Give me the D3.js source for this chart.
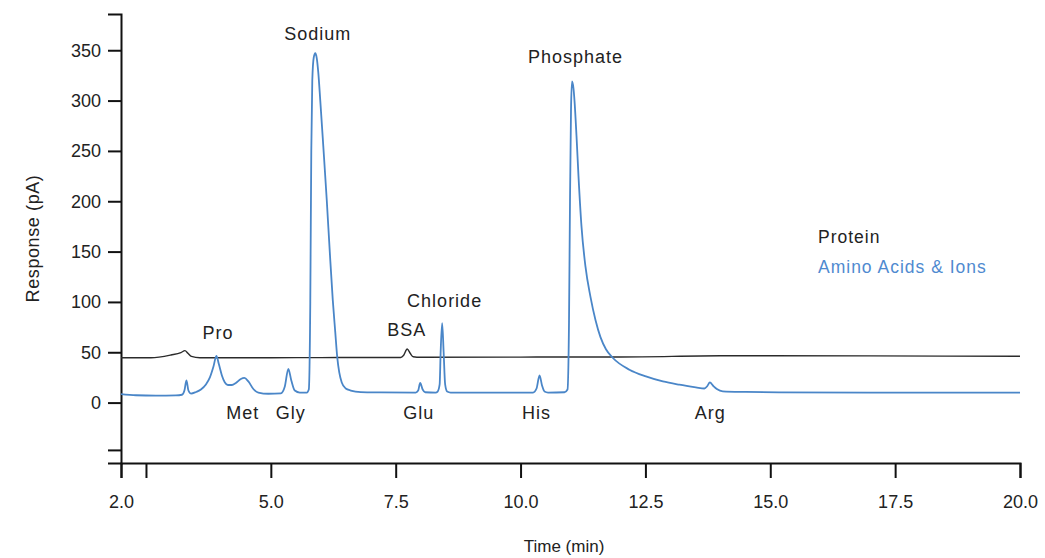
<!DOCTYPE html>
<html>
<head>
<meta charset="utf-8">
<script src="https://cdn.jsdelivr.net/npm/d3@7"></script>
<style>
  html, body { margin: 0; padding: 0; background: #fff; }
  svg { display: block; }
  text { font-family: "Liberation Sans", Arial, Helvetica, sans-serif; }
</style>
</head>
<body>
<svg id="chart" width="1045" height="558"></svg>
<script>
// ---- data ----
const aminoTime = [2.00, 2.30, 2.70, 3.10, 3.22, 3.27, 3.31, 3.35, 3.40, 3.50, 3.60, 3.70, 3.78, 3.85, 3.91, 3.96, 4.02, 4.08, 4.14, 4.22, 4.30, 4.40, 4.47, 4.55, 4.65, 4.75, 4.95, 5.20, 5.28, 5.35, 5.41, 5.48, 5.58, 5.72, 5.76, 5.79, 5.81, 5.83, 5.86, 5.89, 5.92, 5.95, 5.99, 6.05, 6.12, 6.18, 6.24, 6.29, 6.33, 6.37, 6.42, 6.50, 6.60, 6.80, 7.20, 7.90, 7.95, 7.99, 8.04, 8.09, 8.30, 8.34, 8.38, 8.40, 8.43, 8.46, 8.49, 8.53, 8.60, 10.25, 10.32, 10.38, 10.43, 10.48, 10.55, 10.88, 10.94, 10.97, 10.99, 11.01, 11.03, 11.06, 11.08, 11.12, 11.16, 11.22, 11.30, 11.40, 11.50, 11.60, 11.71, 11.85, 12.18, 12.51, 12.85, 13.18, 13.51, 13.68, 13.74, 13.79, 13.86, 13.93, 14.05, 14.51, 15.18, 17.00, 20.00];
const aminoResp = [8.5, 7.3, 7.0, 7.2, 7.8, 12, 22, 12, 9, 10.5, 13, 18, 25, 35.5, 46.5, 38, 27, 20, 17.5, 17.5, 19.5, 23.5, 24.5, 21, 13.5, 10, 8.8, 9.2, 16, 33.5, 22, 12, 10, 10, 13, 100, 250, 320, 343, 347, 342, 328, 300, 255, 201, 150, 102, 70, 45, 30, 20, 14, 12, 10.5, 10.2, 10, 12, 19.5, 13, 10.3, 10, 11, 18, 50, 79, 50, 18, 11, 10, 10, 14, 27, 17, 11, 10, 10.3, 13, 80, 200, 290, 319, 312, 300, 265, 225, 175, 135, 105, 82, 65, 53, 44.3, 32.7, 26, 21, 17.8, 15.2, 14, 16.5, 20, 16.5, 13.5, 11.2, 10.6, 10.2, 10, 10];

const proteinTime = [2.00, 2.60, 3.00, 3.20, 3.28, 3.34, 3.41, 3.58, 5.00, 6.00, 7.00, 7.60, 7.66, 7.73, 7.79, 7.85, 8.00, 10.00, 12.00, 14.00, 15.00, 17.00, 20.00];
const proteinResp = [44.5, 44.5, 47.3, 49.7, 51.6, 49, 45.9, 44.6, 44.6, 44.7, 44.8, 44.8, 47, 53.2, 49, 45.5, 45, 45.2, 45.3, 46.5, 46.6, 46.4, 46];

const peakNames = ["Sodium", "Phosphate", "Chloride", "BSA", "Pro", "Met", "Gly", "Glu", "His", "Arg"];
const peakLabelTime = [5.94, 11.10, 8.48, 7.72, 3.94, 4.44, 5.40, 7.96, 10.32, 13.80];
const peakLabelResp = [360, 337, 95, 66, 63, -16.3, -16.3, -16.3, -16.3, -16.3];

const xTickValues = [2.0, 2.5, 5.0, 7.5, 10.0, 12.5, 15.0, 17.5, 20.0];
const xTickLabels = ["2.0", "", "5.0", "7.5", "10.0", "12.5", "15.0", "17.5", "20.0"];
const yTickValues = [-47, 0, 50, 100, 150, 200, 250, 300, 350];
const yTickLabels = ["", "0", "50", "100", "150", "200", "250", "300", "350"];

const seriesNames = ["Protein", "Amino Acids & Ions"];
const seriesColors = ["#2b2b2b", "#4a86c8"];
const legendColors = ["#222222", "#4f8ad0"];

// ---- layout ----
const svg = d3.select("#chart");
const x = d3.scaleLinear().domain([2, 20]).range([121, 1020]);
const y = d3.scaleLinear().domain([-60, 386]).range([463, 14]);

// x axis
const xAxis = d3.axisBottom(x)
  .tickValues(xTickValues)
  .tickSize(15)
  .tickSizeOuter(15)
  .tickPadding(17)
  .tickFormat((d, i) => xTickLabels[i]);
const gx = svg.append("g").attr("transform", `translate(0,${y(-60)})`).call(xAxis);
gx.select(".domain").attr("stroke", "#111").attr("stroke-width", 2);
gx.selectAll(".tick line").attr("stroke", "#111").attr("stroke-width", 2);
gx.selectAll(".tick text").attr("font-size", "18px").attr("fill", "#222")
  .attr("font-family", "Liberation Sans, Arial, sans-serif");

// y axis
const yAxis = d3.axisLeft(y)
  .tickValues(yTickValues)
  .tickSize(13)
  .tickSizeOuter(13)
  .tickPadding(7)
  .tickFormat((d, i) => yTickLabels[i]);
const gy = svg.append("g").attr("transform", `translate(${x(2)},0)`).call(yAxis);
gy.select(".domain").attr("stroke", "#111").attr("stroke-width", 2);
gy.selectAll(".tick line").attr("stroke", "#111").attr("stroke-width", 2);
gy.selectAll(".tick text").attr("font-size", "18px").attr("fill", "#222")
  .attr("font-family", "Liberation Sans, Arial, sans-serif");

// axis titles
svg.append("text")
  .attr("transform", `translate(39,${(y(-60) + y(386)) / 2}) rotate(-90)`)
  .attr("text-anchor", "middle")
  .attr("font-size", "18px")
  .attr("letter-spacing", "0.6px")
  .attr("fill", "#222")
  .text("Response (pA)");

svg.append("text")
  .attr("x", 564)
  .attr("y", 552)
  .attr("text-anchor", "middle")
  .attr("font-size", "17px")
  .attr("fill", "#222")
  .text("Time (min)");

// lines
const line = d3.line()
  .x(d => x(d[0]))
  .y(d => y(d[1]))
  .curve(d3.curveMonotoneX);

const proteinData = proteinTime.map((t, i) => [t, proteinResp[i]]);
const aminoData = aminoTime.map((t, i) => [t, aminoResp[i]]);

svg.append("path")
  .datum(proteinData)
  .attr("fill", "none")
  .attr("stroke", seriesColors[0])
  .attr("stroke-width", 1.4)
  .attr("d", line);

svg.append("path")
  .datum(aminoData)
  .attr("fill", "none")
  .attr("stroke", seriesColors[1])
  .attr("stroke-width", 1.8)
  .attr("stroke-linejoin", "round")
  .attr("d", line);

// peak labels
svg.append("g").selectAll("text")
  .data(peakNames)
  .join("text")
  .attr("x", (d, i) => x(peakLabelTime[i]))
  .attr("y", (d, i) => y(peakLabelResp[i]))
  .attr("text-anchor", "middle")
  .attr("font-size", "18px")
  .attr("letter-spacing", "1px")
  .attr("fill", "#222")
  .text(d => d);

// legend
svg.append("g").selectAll("text")
  .data(seriesNames)
  .join("text")
  .attr("x", 818)
  .attr("y", (d, i) => 243 + i * 30)
  .attr("font-size", "17.5px")
  .attr("letter-spacing", "1px")
  .attr("fill", (d, i) => legendColors[i])
  .text(d => d);
</script>
</body>
</html>
